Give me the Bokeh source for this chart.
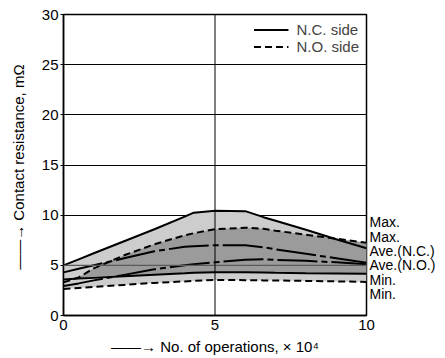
import numpy as np
from bokeh.plotting import figure
from bokeh.models import Span, Legend, LegendItem, FixedTicker, LinearAxis
from bokeh.embed import file_html
from bokeh.resources import INLINE

# Data (x in 10^4 operations, y in mOhm)
operations = [0, 0.5, 1, 2, 3, 4, 4.3, 5, 6, 6.6, 7, 8, 9, 10]
nc_max = [5.0, 5.6, 6.2, 7.4, 8.6, 9.85, 10.25, 10.45, 10.4, 9.8, 9.45, 8.55, 7.6, 6.7]
no_max = [3.3, 3.8, 4.7, 6.0, 7.1, 8.0, 8.2, 8.6, 8.75, 8.65, 8.45, 8.05, 7.65, 7.25]
nc_ave = [4.3, 4.65, 5.0, 5.7, 6.4, 6.85, 6.9, 7.0, 7.0, 6.8, 6.6, 6.15, 5.7, 5.25]
no_ave = [2.95, 3.2, 3.5, 4.05, 4.6, 5.0, 5.1, 5.3, 5.55, 5.6, 5.55, 5.45, 5.3, 5.1]
nc_min = [3.6, 3.68, 3.75, 3.9, 4.05, 4.2, 4.25, 4.3, 4.3, 4.28, 4.25, 4.2, 4.18, 4.15]
no_min = [2.65, 2.75, 2.85, 3.05, 3.25, 3.4, 3.45, 3.55, 3.52, 3.5, 3.5, 3.45, 3.4, 3.35]

x_ticks = [0, 5, 10]
y_ticks = [0, 5, 10, 15, 20, 25, 30]
end_labels = ["Max.", "Max.", "Ave.(N.C.)", "Ave.(N.O.)", "Min.", "Min."]
end_label_y = [9.35, 7.85, 6.45, 5.0, 3.55, 2.15]

FONT = "Liberation Sans"

p = figure(width=445, height=358, x_range=(0, 10), y_range=(0, 30),
           output_backend="svg", toolbar_location=None,
           min_border_left=63, min_border_right=79, min_border_top=14, min_border_bottom=43)

p.outline_line_color = "black"
p.outline_line_width = 1.5

# Axes
p.xaxis.ticker = FixedTicker(ticks=x_ticks)
p.yaxis.ticker = FixedTicker(ticks=y_ticks)
for ax in (p.xaxis, p.yaxis):
    ax.axis_line_color = "black"
    ax.axis_line_width = 1.5
    ax.major_label_text_font = FONT
    ax.major_label_text_font_size = "15px"
    ax.major_label_text_color = "black"
    ax.minor_tick_line_color = None
    ax.major_tick_in = 0
    ax.axis_label_text_font = FONT
    ax.axis_label_text_font_size = "15px"
    ax.axis_label_text_font_style = "normal"
    ax.axis_label_text_color = "black"
p.xaxis.major_tick_out = 0
p.xaxis.major_label_standoff = 4
p.xaxis.axis_label = "\u2014\u2014\u2192 No. of operations, \u00d7 10\u2074"
p.xaxis.axis_label_standoff = 5
p.yaxis.major_tick_out = 3
p.yaxis.major_tick_line_color = "black"
p.yaxis.major_label_standoff = 2
p.yaxis.axis_label = "\u2014\u2014\u2192  Contact resistance, m\u03a9"
p.yaxis.axis_label_standoff = 12

# Right-hand curve labels as an axis
right = LinearAxis(ticker=FixedTicker(ticks=end_label_y),
                   major_label_overrides={v: t for v, t in zip(end_label_y, end_labels)},
                   major_tick_out=0, major_tick_in=0, axis_line_color=None,
                   minor_tick_line_color=None, major_label_standoff=3,
                   major_label_text_font=FONT, major_label_text_font_size="14px",
                   major_label_text_color="black")
p.add_layout(right, "right")

# Grid
p.xgrid.visible = False
p.ygrid.ticker = FixedTicker(ticks=[10, 15, 20, 25])
p.ygrid.grid_line_color = "black"
p.ygrid.grid_line_width = 1

# Fills
nc_max_a = np.array(nc_max)
no_max_a = np.array(no_max)
nc_min_a = np.array(nc_min)
no_min_a = np.array(no_min)
p.varea(x=operations, y1=np.minimum(nc_min_a, no_min_a), y2=np.maximum(nc_max_a, no_max_a),
        fill_color="#cdcdcd")
p.varea(x=operations, y1=nc_min_a, y2=np.maximum(no_max_a, nc_min_a), fill_color="#9b9b9b")

# Grid lines drawn over fills
p.add_layout(Span(location=5, dimension="width", line_color="#5a5a5a", line_width=1.2))
p.add_layout(Span(location=5, dimension="height", line_color="black", line_width=1))

# Curves
lw = 2
r_ncmax = p.line(operations, nc_max, line_color="black", line_width=lw)
p.line(operations, nc_min, line_color="black", line_width=lw)
r_nomax = p.line(operations, no_max, line_color="black", line_width=lw, line_dash="7 4")
p.line(operations, no_min, line_color="black", line_width=lw, line_dash="7 4")
p.line(operations, nc_ave, line_color="black", line_width=lw, line_dash="40 4 6 4")
p.line(operations, no_ave, line_color="black", line_width=lw, line_dash="40 4 6 4")

# Legend
legend = Legend(items=[LegendItem(label="N.C. side", renderers=[r_ncmax]),
                       LegendItem(label="N.O. side", renderers=[r_nomax])],
                location="top_right", border_line_color=None, background_fill_alpha=0,
                glyph_width=35, glyph_height=17, label_height=17, spacing=0,
                padding=7, margin=7, label_standoff=8,
                label_text_font=FONT, label_text_font_size="15px")
p.add_layout(legend)

open("out.html", "w").write(file_html(p, INLINE))
